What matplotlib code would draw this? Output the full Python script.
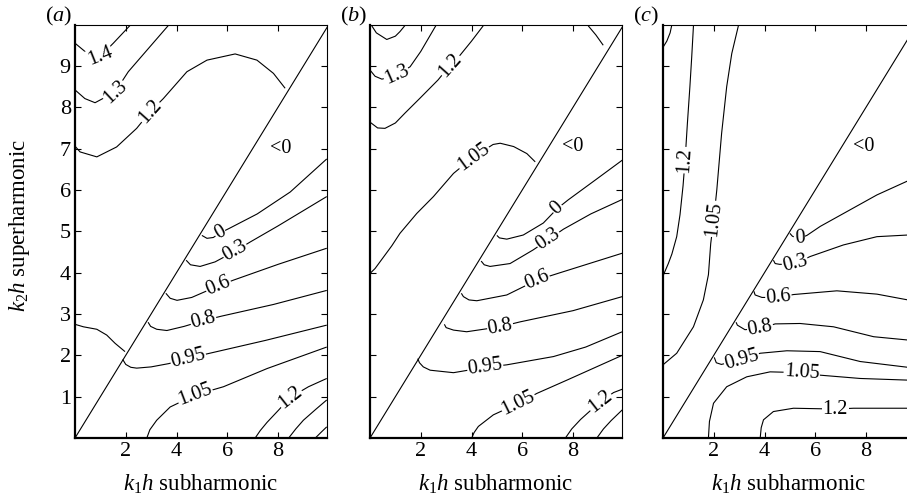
import numpy as np
import matplotlib
matplotlib.use('Agg')
import matplotlib.pyplot as plt

plt.rcParams.update({
    'font.family': 'Liberation Serif',
    'mathtext.fontset': 'custom',
    'mathtext.rm': 'Liberation Serif',
    'mathtext.it': 'Liberation Serif:italic',
    'font.size': 16,
    'xtick.direction': 'in',
    'ytick.direction': 'in',
    'xtick.top': True,
    'ytick.right': True,
})

# contour lines: (label, k1h values, k2h values, label position)
panel_a = [
    ('1.4', [0, 0.49, 0.99, 1.51, 2.17], [9.55, 9.30, 9.23, 9.55, 9.98], (0.99, 9.23)),
    ('1.3', [0, 0.39, 0.79, 1.58, 2.10, 3.68], [8.42, 8.21, 8.11, 8.37, 8.86, 9.98], (1.58, 8.37)),
    ('1.2', [0, 0.20, 0.86, 1.64, 2.43, 2.96, 3.48, 4.41, 5.20, 6.31, 7.17, 7.82, 8.28],
     [7.06, 6.92, 6.80, 7.04, 7.49, 7.89, 8.21, 8.86, 9.14, 9.29, 9.14, 8.82, 8.46], (2.96, 7.89)),
    ('0', [5.00, 5.20, 5.45, 5.72, 6.11, 7.18, 8.48, 9.92],
     [4.90, 4.83, 4.85, 4.96, 5.08, 5.42, 5.95, 6.75], (5.72, 4.96)),
    ('0.3', [4.38, 4.55, 4.93, 5.52, 6.31, 6.90, 8.00, 9.92],
     [4.30, 4.19, 4.15, 4.26, 4.52, 4.74, 5.13, 5.84], (6.31, 4.52)),
    ('0.6', [3.58, 3.75, 4.02, 4.60, 5.65, 6.25, 8.00, 9.92],
     [3.50, 3.38, 3.33, 3.40, 3.68, 3.82, 4.20, 4.59], (5.65, 3.68)),
    ('0.8', [2.88, 2.98, 3.22, 3.62, 4.30, 5.06, 5.79, 7.82, 9.92],
     [2.80, 2.70, 2.63, 2.60, 2.70, 2.84, 2.95, 3.23, 3.57], (5.06, 2.84)),
    ('0.95', [1.88, 2.00, 2.20, 2.43, 3.00, 3.70, 4.46, 5.45, 7.50, 9.92],
     [1.90, 1.78, 1.71, 1.69, 1.72, 1.80, 1.93, 2.07, 2.36, 2.73], (4.46, 1.93)),
    ('1.05', [2.83, 2.95, 3.22, 3.75, 4.73, 5.85, 7.57, 9.92],
     [0, 0.20, 0.43, 0.75, 1.04, 1.24, 1.68, 2.20], (4.73, 1.04)),
    ('1.2', [7.10, 7.30, 7.57, 8.00, 8.48, 9.20, 9.92],
     [0, 0.18, 0.38, 0.66, 0.98, 1.24, 1.44], (8.48, 0.98)),
    ('', [8.42, 8.70, 9.00, 9.50, 9.92], [0, 0.22, 0.43, 0.70, 0.92], None),
    ('', [9.47, 9.70, 9.92], [0, 0.14, 0.27], None),
    ('', [0, 0.33, 0.86, 1.25, 1.58, 1.97], [2.75, 2.69, 2.63, 2.49, 2.29, 2.09], None),
]

panel_b = [
    ('', [0.07, 0.25, 0.66, 1.00, 1.18, 1.38], [9.97, 9.80, 9.64, 9.72, 9.83, 9.98], None),
    ('1.3', [0, 0.20, 0.47, 1.05, 1.58, 2.00, 2.60], [8.90, 8.75, 8.68, 8.78, 8.98, 9.35, 9.98], (1.05, 8.78)),
    ('1.2', [0, 0.30, 0.59, 1.00, 1.38, 1.97, 2.68, 3.16, 3.55, 4.00, 4.46],
     [7.64, 7.50, 7.49, 7.62, 7.86, 8.22, 8.66, 9.02, 9.26, 9.60, 9.97], (3.16, 9.02)),
    ('1.05', [0, 0.20, 0.50, 0.86, 1.18, 1.84, 2.50, 3.29, 4.08, 4.85, 5.13, 5.66, 6.18, 6.51],
     [3.98, 4.10, 4.35, 4.65, 4.95, 5.43, 5.84, 6.40, 6.80, 7.10, 7.13, 7.05, 6.88, 6.68], (4.08, 6.80)),
    ('', [8.60, 8.90, 9.19], [9.97, 9.75, 9.50], None),
    ('0', [5.00, 5.10, 5.39, 6.04, 6.83, 7.38, 7.81, 8.90, 9.94],
     [4.90, 4.84, 4.81, 4.91, 5.20, 5.55, 5.76, 6.25, 6.72], (7.38, 5.55)),
    ('0.3', [4.38, 4.50, 4.73, 5.52, 6.43, 7.03, 7.62, 8.70, 9.94],
     [4.28, 4.19, 4.15, 4.22, 4.55, 4.80, 5.05, 5.42, 5.77], (7.03, 4.80)),
    ('0.6', [3.60, 3.68, 3.90, 4.21, 5.39, 6.58, 7.50, 9.94],
     [3.50, 3.42, 3.34, 3.32, 3.46, 3.82, 4.00, 4.47], (6.58, 3.82)),
    ('0.8', [2.93, 3.00, 3.29, 3.81, 5.13, 5.92, 8.00, 9.94],
     [2.75, 2.67, 2.61, 2.57, 2.69, 2.81, 3.08, 3.42], (5.13, 2.69)),
    ('0.95', [1.88, 1.95, 2.10, 2.37, 3.29, 4.54, 5.39, 7.23, 8.50, 9.94],
     [1.92, 1.82, 1.72, 1.64, 1.58, 1.71, 1.77, 1.97, 2.20, 2.57], (4.54, 1.71)),
    ('1.05', [4.01, 4.10, 4.27, 4.86, 5.85, 6.58, 7.76, 9.94],
     [0, 0.13, 0.28, 0.56, 0.84, 1.08, 1.40, 2.00], (5.85, 0.84)),
    ('1.2', [7.70, 7.95, 8.30, 8.68, 9.07, 9.60, 9.94],
     [0, 0.22, 0.45, 0.66, 0.88, 1.10, 1.18], (9.07, 0.88)),
    ('', [8.94, 9.20, 9.50, 9.94], [0, 0.22, 0.42, 0.68], None),
]

panel_c = [
    ('', [0, 0.15, 0.28, 0.34], [9.45, 9.60, 9.80, 9.97], None),
    ('1.2', [1.20, 1.13, 1.06, 0.96, 0.87, 0.79, 0.67, 0.54, 0.35, 0.21, 0],
     [9.97, 9.20, 8.50, 7.60, 6.72, 6.10, 5.40, 4.87, 4.45, 4.22, 3.92], (0.87, 6.72)),
    ('1.05', [2.97, 2.71, 2.51, 2.31, 2.12, 2.00, 1.88, 1.79, 1.59, 1.20, 0.54, 0],
     [9.97, 9.30, 8.50, 7.37, 6.00, 5.30, 4.70, 3.95, 3.34, 2.69, 2.05, 1.77], (2.00, 5.30)),
    ('0', [5.00, 5.10, 5.38, 5.67, 6.20, 7.11, 8.43, 9.65],
     [4.95, 4.88, 4.83, 4.90, 5.12, 5.43, 5.88, 6.22], (5.38, 4.83)),
    ('0.3', [4.35, 4.42, 4.60, 5.21, 5.80, 7.11, 8.43, 9.65],
     [4.30, 4.22, 4.20, 4.22, 4.39, 4.67, 4.87, 4.91], (5.21, 4.22)),
    ('0.6', [3.58, 3.63, 3.90, 4.55, 5.14, 6.85, 8.43, 9.65],
     [3.55, 3.46, 3.40, 3.40, 3.47, 3.56, 3.48, 3.34], (4.55, 3.40)),
    ('0.8', [2.88, 2.93, 3.23, 3.83, 4.42, 5.40, 6.72, 8.30, 9.65],
     [2.80, 2.73, 2.62, 2.65, 2.76, 2.77, 2.69, 2.45, 2.37], (3.83, 2.65)),
    ('0.95', [2.02, 2.10, 2.30, 3.10, 3.83, 4.88, 6.19, 7.77, 9.65],
     [1.95, 1.82, 1.78, 1.90, 2.05, 2.11, 2.09, 1.85, 1.71], (3.10, 1.90)),
    ('1.05', [1.79, 1.83, 1.99, 2.51, 3.30, 4.22, 5.47, 6.19, 7.77, 9.65],
     [0, 0.40, 0.84, 1.24, 1.48, 1.60, 1.58, 1.52, 1.44, 1.40], (5.47, 1.58)),
    ('1.2', [3.83, 3.87, 3.96, 4.35, 5.14, 6.79, 7.51, 9.65],
     [0, 0.25, 0.44, 0.64, 0.72, 0.70, 0.72, 0.72], (6.79, 0.70)),
]

neg_label_pos = [(8.10, 7.00), (7.97, 7.04), (7.90, 7.05)]
panel_tags = ['a', 'b', 'c']
xticks = [2, 4, 6, 8]
yticks = [1, 2, 3, 4, 5, 6, 7, 8, 9]
XMAX, YMAX = 9.93, 9.99

W, H = 907, 501
fig = plt.figure(figsize=(W / 100, H / 100), dpi=100)
lefts = [75, 370, 663]


def label_angle(ax, xs, ys, pos):
    d = [(x - pos[0]) ** 2 + (y - pos[1]) ** 2 for x, y in zip(xs, ys)]
    i = int(np.argmin(d))
    i0, i1 = max(i - 1, 0), min(i + 1, len(xs) - 1)
    p0 = ax.transData.transform((xs[i0], ys[i0]))
    p1 = ax.transData.transform((xs[i1], ys[i1]))
    ang = np.degrees(np.arctan2(p1[1] - p0[1], p1[0] - p0[0]))
    if ang > 90:
        ang -= 180
    elif ang <= -90:
        ang += 180
    return ang


for k, (contours, left) in enumerate(zip([panel_a, panel_b, panel_c], lefts)):
    ax = fig.add_axes([left / W, (H - 438) / H, 252 / W, 413 / H])
    ax.set_xlim(0, XMAX)
    ax.set_ylim(0, YMAX)
    ax.set_xticks(xticks)
    ax.set_yticks(yticks)
    ax.tick_params(length=4, width=0.8, labelsize=16, pad=3)
    if k > 0:
        ax.set_yticklabels([])
    for side in ['top', 'right']:
        ax.spines[side].set_linewidth(0.8)
    for side in ['left', 'bottom']:
        ax.spines[side].set_linewidth(1.6)

    # boundary k2 = k1
    ax.plot([0, 10], [0, 10], color='k', lw=0.8)

    for txt, xs, ys, lab in contours:
        ax.plot(xs, ys, color='k', lw=0.8, solid_capstyle='butt')
        if lab is not None:
            ang = label_angle(ax, xs, ys, lab)
            ax.text(lab[0], lab[1], txt, rotation=ang, rotation_mode='anchor',
                    ha='center', va='center', fontsize=14.5,
                    bbox=dict(fc='white', ec='none', pad=0.4))
    ax.text(*neg_label_pos[k], '<0', ha='center', va='center', fontsize=14.5)

    fig.text((left + 126) / W, 1 - 491 / H, r'$k_1h$ subharmonic',
             ha='center', va='baseline', fontsize=16.5)
    fig.text((left - 30) / W, 1 - 21 / H, r'$(\mathit{%s})$' % panel_tags[k],
             ha='left', va='baseline', fontsize=16)

fig.text(20 / W, 1 - 225 / H, r'$k_2h$ superharmonic', rotation=90,
         ha='center', va='center', fontsize=16.5)

fig.savefig('out.png', dpi=100)
